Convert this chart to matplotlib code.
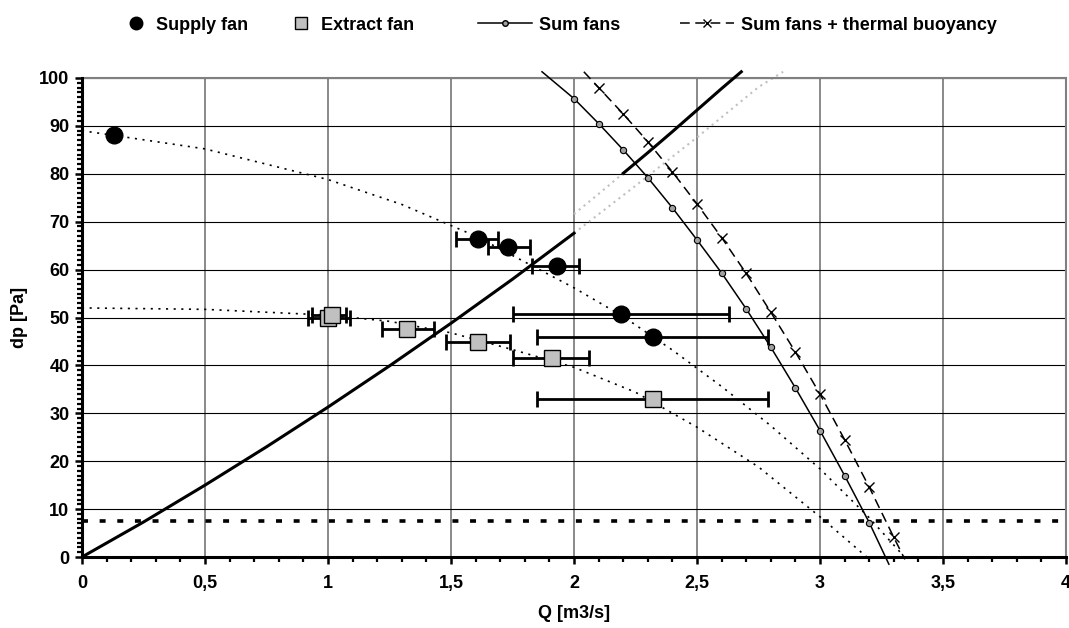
import numpy as np
import matplotlib
matplotlib.use("Agg")
import matplotlib.pyplot as plt
from matplotlib.ticker import MultipleLocator, FuncFormatter
from matplotlib.lines import Line2D

plt.rcParams['font.family'] = ['Liberation Sans', 'DejaVu Sans']
plt.rcParams['font.weight'] = 'bold'
plt.rcParams['font.size'] = 13
plt.rcParams['lines.scale_dashes'] = False

# measured points - supply fan (Q, dp, error bar low/high)
sup_q = [0.13, 1.61, 1.73, 1.93, 2.19, 2.32]
sup_dp = [88.0, 66.4, 64.7, 60.8, 50.7, 45.9]
sup_lo = [0.13, 1.52, 1.65, 1.83, 1.75, 1.85]
sup_hi = [0.13, 1.69, 1.82, 2.02, 2.63, 2.79]

# measured points - extract fan
ext_q = [1.00, 1.015, 1.32, 1.61, 1.91, 2.32]
ext_dp = [49.9, 50.6, 47.6, 44.9, 41.5, 33.0]
ext_lo = [0.92, 0.935, 1.22, 1.48, 1.75, 1.85]
ext_hi = [1.09, 1.075, 1.43, 1.74, 2.06, 2.79]

# fan curves (dotted trend lines)
sup_curve_q = [0, 0.5, 1.0, 1.3, 1.6, 2.0, 2.2, 2.4, 2.6, 2.8, 3.0, 3.2, 3.34]
sup_curve_dp = [89.0, 85.2, 78.8, 73.6, 67.0, 56.2, 50.2, 43.2, 35.6, 27.4, 18.4, 8.2, 0.2]
ext_curve_q = [0, 0.5, 1.0, 1.25, 1.5, 1.75, 2.0, 2.25, 2.5, 2.75, 3.0, 3.19]
ext_curve_dp = [52.0, 51.7, 50.5, 49.2, 46.8, 43.3, 39.6, 34.4, 27.1, 18.8, 8.4, 0.0]

# sum of fans, and with thermal buoyancy
sum_q = [1.87, 2.0, 2.1, 2.2, 2.3, 2.4, 2.5, 2.6, 2.7, 2.8, 2.9, 3.0, 3.1, 3.2, 3.28]
sum_dp = [101.3, 95.7, 90.5, 85.0, 79.2, 72.9, 66.2, 59.3, 51.8, 43.8, 35.3, 26.4, 17.0, 7.2, -1.5]
buo_q = [2.04, 2.1, 2.2, 2.3, 2.4, 2.5, 2.6, 2.7, 2.8, 2.9, 3.0, 3.1, 3.2, 3.3, 3.345]
buo_dp = [101.3, 98.0, 92.5, 86.7, 80.4, 73.7, 66.7, 59.2, 51.1, 42.8, 34.0, 24.5, 14.6, 4.1, -0.5]

# system curves
sys1_q = [0, 0.25, 0.5, 0.75, 1.0, 1.25, 1.5, 1.75, 2.0]
sys1_dp = [0, 7.3, 15.0, 23.0, 31.3, 39.9, 48.8, 58.0, 67.6]
sys1_ext_q = [2.0, 2.25, 2.5, 2.75, 2.85]
sys1_ext_dp = [67.6, 77.5, 87.6, 98.1, 101.3]
sys2_ext_q = [2.0, 2.1, 2.2]
sys2_ext_dp = [71.6, 75.8, 80.1]
sys2_q = [2.2, 2.3, 2.4, 2.5, 2.6, 2.68]
sys2_dp = [80.1, 84.4, 88.8, 93.3, 97.8, 101.3]

buoyancy = 7.5

fig = plt.figure(figsize=(10.69, 6.28), dpi=100)
ax = fig.add_axes([82/1069, 1-557/628, (1066-82)/1069, (557-78)/628])

dots = (0, (1.5, 4))
ax.plot(sup_curve_q, sup_curve_dp, color='black', lw=1.2, ls=dots, zorder=3)
ax.plot(ext_curve_q, ext_curve_dp, color='black', lw=1.2, ls=dots, zorder=3)

ax.plot(sys1_ext_q, sys1_ext_dp, color='#c0c0c0', lw=1.5, ls=(0, (1.5, 3)), zorder=2, clip_on=False)
ax.plot(sys2_ext_q, sys2_ext_dp, color='#c0c0c0', lw=1.5, ls=(0, (1.5, 3)), zorder=2)
ax.plot(sys1_q, sys1_dp, color='black', lw=2.2, zorder=4)
ax.plot(sys2_q, sys2_dp, color='black', lw=2.2, zorder=4, clip_on=False)

ax.axhline(buoyancy, color='black', lw=2.6, ls=(0, (4.3, 8.4)), zorder=3)

ax.plot(sum_q, sum_dp, color='black', lw=1.1, marker='o', ms=4.5, mfc='#a0a0a0',
        mec='black', mew=0.8, markevery=list(range(1, len(sum_q) - 1)), zorder=5, clip_on=False)
ax.plot(buo_q, buo_dp, color='black', lw=1.1, ls=(0, (7, 4)), marker='x', ms=7,
        mew=1.0, markevery=list(range(1, len(buo_q) - 1)), zorder=5, clip_on=False)

sup_err = [np.array(sup_q) - np.array(sup_lo), np.array(sup_hi) - np.array(sup_q)]
ext_err = [np.array(ext_q) - np.array(ext_lo), np.array(ext_hi) - np.array(ext_q)]
ax.errorbar(sup_q[1:], sup_dp[1:], xerr=[sup_err[0][1:], sup_err[1][1:]], fmt='none',
            ecolor='black', elinewidth=2, capsize=5.5, capthick=2, zorder=6)
ax.errorbar(ext_q, ext_dp, xerr=ext_err, fmt='none', ecolor='black', elinewidth=2,
            capsize=5.5, capthick=2, zorder=6)
ax.plot(sup_q, sup_dp, ls='none', marker='o', ms=12, color='black', zorder=7)
ax.plot(ext_q, ext_dp, ls='none', marker='s', ms=11, mfc='#c0c0c0', mec='black', mew=1, zorder=7)

ax.set_xlim(0, 4)
ax.set_ylim(0, 100)
ax.xaxis.set_major_locator(MultipleLocator(0.5))
ax.xaxis.set_minor_locator(MultipleLocator(0.1))
ax.yaxis.set_major_locator(MultipleLocator(10))
ax.yaxis.set_minor_locator(MultipleLocator(1))
ax.xaxis.set_major_formatter(FuncFormatter(lambda v, p: f"{v:g}".replace('.', ',')))

ax.grid(axis='x', which='major', color='#808080', lw=1.3)
ax.grid(axis='y', which='major', color='black', lw=0.8)
ax.set_axisbelow(True)

for s in ['left', 'bottom']:
    ax.spines[s].set_linewidth(2.2)
    ax.spines[s].set_zorder(8)
for s in ['top', 'right']:
    ax.spines[s].set_color('#808080')
    ax.spines[s].set_linewidth(1.5)

ax.tick_params(axis='both', which='major', direction='out', length=5, width=1.8)
ax.tick_params(axis='both', which='minor', direction='out', length=3.5, width=1.6)
ax.tick_params(axis='x', which='major', pad=8)
ax.tick_params(axis='y', which='major', pad=4)

ax.set_xlabel('Q [m3/s]', fontweight='bold', labelpad=9)
ax.set_ylabel('dp [Pa]', fontweight='bold', labelpad=8)

# legend, one entry at a time
entries = [
    (Line2D([], [], ls='none', marker='o', ms=9, color='black'), 'Supply fan', 122, 1.5),
    (Line2D([], [], ls='none', marker='s', ms=8, mfc='#c0c0c0', mec='black'), 'Extract fan', 287, 1.5),
    (Line2D([], [], color='black', lw=1.1, marker='o', ms=4, mfc='#a0a0a0', mec='black'), 'Sum fans', 478, 3.0),
    (Line2D([], [], color='black', lw=1.1, ls=(0, (7, 4)), marker='x', ms=6), 'Sum fans + thermal buoyancy', 680, 3.0),
]
for h, lab, px, hl in entries:
    fig.legend([h], [lab], loc='center left', bbox_to_anchor=(px/1069, 1-25/628),
               frameon=False, borderpad=0, borderaxespad=0, handlelength=hl,
               handletextpad=0.4, prop={'weight': 'bold', 'size': 13})

fig.savefig('out.png', dpi=100)
